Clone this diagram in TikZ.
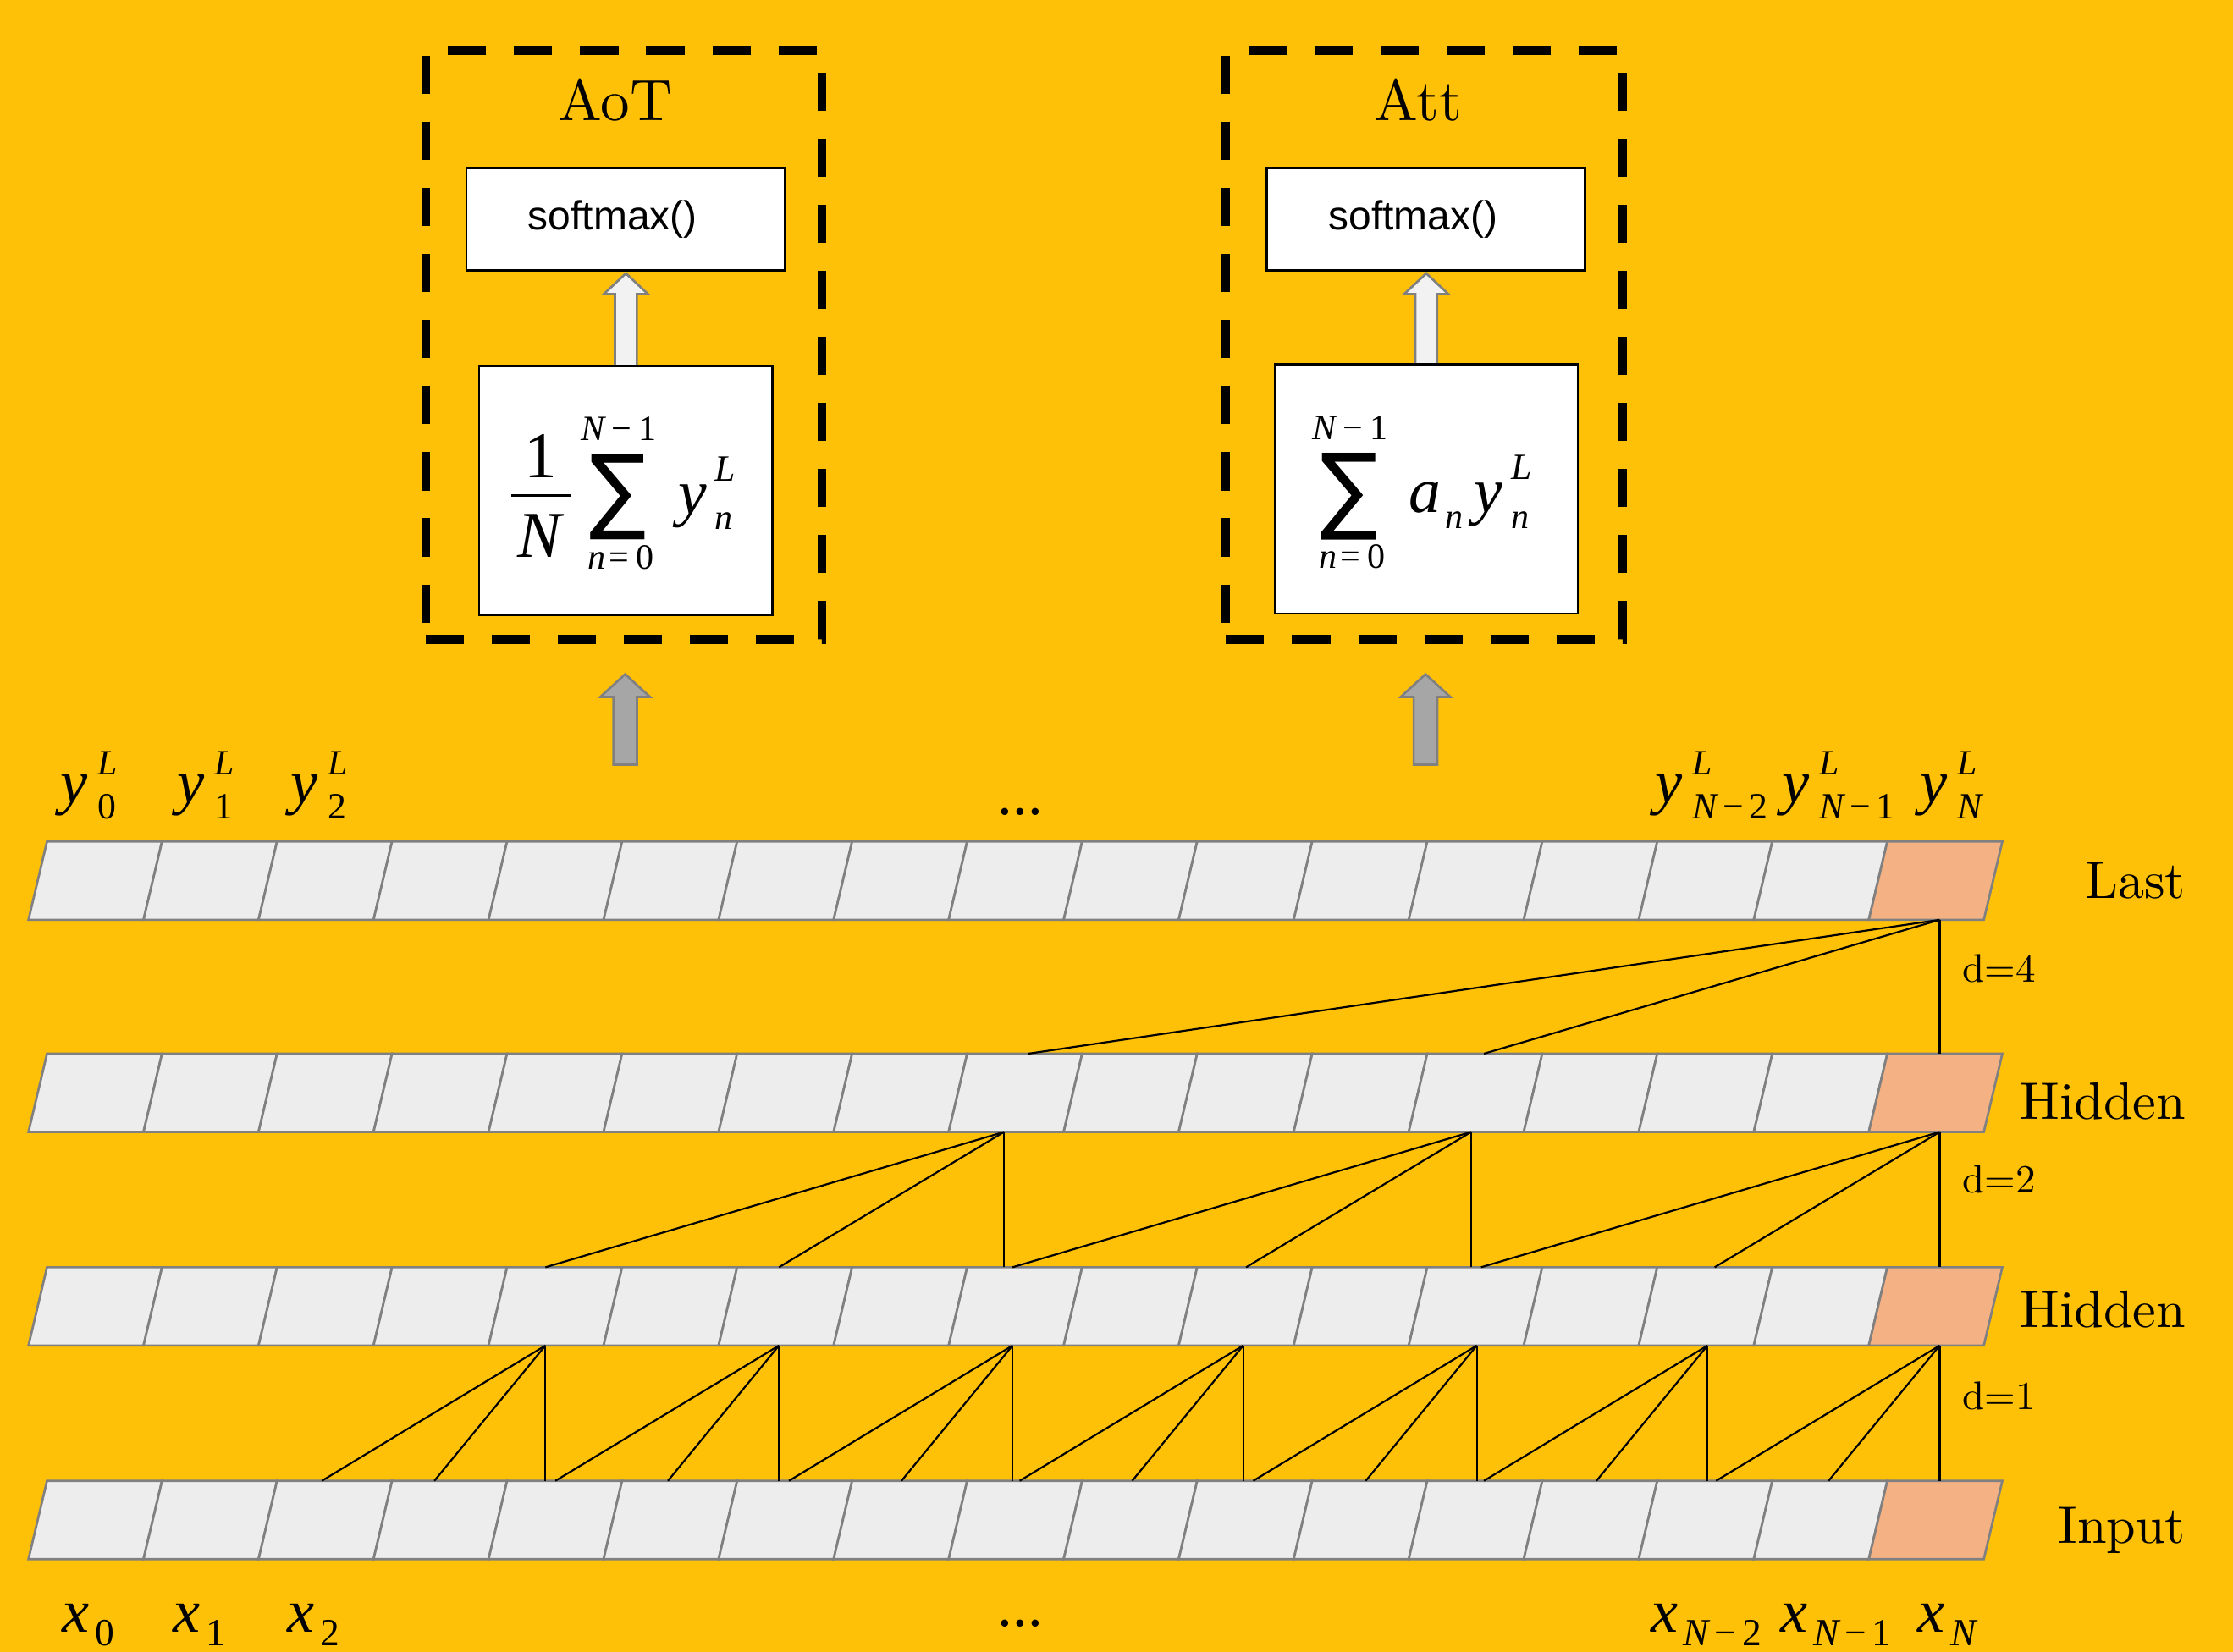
\documentclass[tikz,border=0pt]{standalone}
\usepackage{graphicx}
\usepackage{fontspec}
\newfontfamily\tmfont{Liberation Serif}
\newfontfamily\arfont{Liberation Sans}
\newfontfamily\djvfont{DejaVu Sans}
\newfontfamily\lmten{lmroman10-regular}[Extension=.otf]
\usetikzlibrary{calc}

\definecolor{bgc}{RGB}{255,193,8}
\definecolor{cellfill}{RGB}{237,237,237}
\definecolor{cellline}{RGB}{128,128,128}
\definecolor{orangefill}{RGB}{244,177,131}
\definecolor{warrowfill}{RGB}{242,242,242}
\definecolor{garrowfill}{RGB}{166,166,166}
\definecolor{arrowline}{RGB}{128,128,128}

\newcommand\fsz[1]{\fontsize{#1}{#1}\selectfont}
% base, kern, sub, sup
\newcommand\sbsp[4]{{\itshape #1}\kern#2\makebox[0pt][l]{\raisebox{\suprise}{\fsz{\supsz}\itshape #4}}\raisebox{-\subdrop}{\fsz{\subsz}#3}}
\newcommand\sumglyph[2]{\resizebox*{#1}{#2}{\djvfont ∑}}

\begin{document}
\begin{tikzpicture}[x=1pt,y=-1pt,
  cellbox/.style={fill=cellfill,draw=cellline,line width=1.6pt},
  orangebox/.style={fill=orangefill,draw=cellline,line width=1.6pt},
  conn/.style={draw=black,line width=1.3pt},
  dbox/.style={draw=black,line width=6pt,dash pattern=on 26.8pt off 19.6pt,inner sep=0pt},
  smx/.style={draw=black,line width=1.5pt,fill=white,inner sep=0pt,font=\arfont\fsz{28.5}},
  fbox/.style={draw=black,line width=1.5pt,fill=white,inner sep=0pt},
  ftxt/.style={inner sep=0pt,anchor=base,font=\tmfont\fsz{46}},
  flim/.style={inner sep=0pt,anchor=base,font=\tmfont\fsz{25}},
  fsym/.style={inner sep=0pt,anchor=base west,font=\tmfont\fsz{45}\def\suprise{23pt}\def\subdrop{11pt}\def\subsz{25}\def\supsz{26}},
  fbar/.style={draw=black,line width=2pt},
  ttl/.style={inner sep=0pt,anchor=base,font=\lmten\fsz{41}},
  rowlab/.style={inner sep=0pt,anchor=base east,font=\lmten\fsz{37}},
  dlab/.style={inner sep=0pt,anchor=base west,font=\lmten\fsz{28}},
  ylab/.style={inner sep=0pt,anchor=base,font=\tmfont\fsz{43}\def\suprise{20pt}\def\subdrop{11pt}\def\subsz{26}\def\supsz{25}},
  xlab/.style={inner sep=0pt,anchor=base,font=\tmfont\fsz{43}\def\suprise{19pt}\def\subdrop{10pt}\def\subsz{27}\def\supsz{22}},
  ellip/.style={inner sep=0pt,anchor=base,font=\tmfont\fsz{42}},
  warrow/.style={fill=warrowfill,draw=arrowline,line width=1.6pt},
  garrow/.style={fill=garrowfill,draw=arrowline,line width=1.6pt}
]
\fill[bgc] (0,0) rectangle (1568,1160);
\useasboundingbox (0,0) rectangle (1568,1160);

% ---- rows of cells
\def\cw{80.765}
\foreach \t in {591,740,890,1040}{
  \foreach \i in {0,...,15}{
    \draw[cellbox] ({20+\i*\cw},{\t+55}) -- ({33+\i*\cw},\t) -- ({33+(\i+1)*\cw},\t) -- ({20+(\i+1)*\cw},{\t+55}) -- cycle;
  }
  \draw[orangebox] ({20+16*\cw},{\t+55}) -- ({33+16*\cw},\t) -- ({33+17*\cw},\t) -- ({20+17*\cw},{\t+55}) -- cycle;
}

% ---- connectors d=4
\coordinate (a4) at (1362,646);
\foreach \ex [count=\kk] in {722,1042,1362}{
  \coordinate (b4-\kk) at (\ex,740);
  \draw[conn] (a4) -- (b4-\kk);
}
% ---- connectors d=2
\foreach \ax [count=\jj] in {705,1033,1362}{
  \coordinate (a2-\jj) at (\ax,795);
  \foreach \ox [count=\kk] in {322,158,0}{
    \coordinate (b2-\jj-\kk) at ({\ax-\ox},890);
    \draw[conn] (a2-\jj) -- (b2-\jj-\kk);
  }
}
% ---- connectors d=1
\foreach \ax [count=\jj] in {383,547,711,873,1037,1199,1362}{
  \coordinate (a1-\jj) at (\ax,945);
  \foreach \ox [count=\kk] in {157,78,0}{
    \coordinate (b1-\jj-\kk) at ({\ax-\ox},1040);
    \draw[conn] (a1-\jj) -- (b1-\jj-\kk);
  }
}

% ---- dashed boxes
\node[dbox,minimum width=278.4pt,minimum height=413.7pt] (aot) at (438.1,242.2) {};
\node[dbox,minimum width=278.4pt,minimum height=413.7pt] (att) at (1000.1,242.2) {};
\node[ttl] (taot) at (432,84.5) {AoT};
\node[ttl] (tatt) at (996,84.5) {Att};

% ---- softmax boxes
\node[smx,minimum width=223.5pt,minimum height=72pt] (sa) at (439.2,154) {\hspace*{-18pt}softmax()};
\node[smx,minimum width=223.5pt,minimum height=72pt] (sb) at (1001.2,154) {\hspace*{-18pt}softmax()};

% ---- white arrows
\coordinate (wtA) at (439.5,192);
\coordinate (wbA) at (439.5,257);
\draw[warrow] ($(wbA)+(-7.7,0)$) -- ($(wtA)+(-7.7,14.5)$) -- ($(wtA)+(-15.5,14.5)$) -- (wtA) -- ($(wtA)+(15.5,14.5)$) -- ($(wtA)+(7.7,14.5)$) -- ($(wbA)+(7.7,0)$) -- cycle;
\coordinate (wtB) at (1001.5,192);
\coordinate (wbB) at (1001.5,257);
\draw[warrow] ($(wbB)+(-7.7,0)$) -- ($(wtB)+(-7.7,14.5)$) -- ($(wtB)+(-15.5,14.5)$) -- (wtB) -- ($(wtB)+(15.5,14.5)$) -- ($(wtB)+(7.7,14.5)$) -- ($(wbB)+(7.7,0)$) -- cycle;

% ---- formula boxes
\node[fbox,minimum width=206pt,minimum height=175pt] (fa) at (439.5,344.5) {};
\node[fbox,minimum width=213pt,minimum height=175pt] (fb) at (1001.5,343.5) {};

% AoT formula: (1/N) sum y_n^L
\node[ftxt] (fa-num) at (380,335.7) {1};
\coordinate (fa-bl) at (359,348);
\coordinate (fa-br) at (401,348);
\draw[fbar] (fa-bl) -- (fa-br);
\node[ftxt] (fa-den) at (379,391.5) {\itshape N};
\node[inner sep=0pt] (fa-sum) at (434,349) {\sumglyph{40pt}{60pt}};
\node[flim] (fa-top) at (434.5,309.5) {{\itshape N}\kern5pt−\kern5pt1};
\node[flim] (fa-bot) at (436,400) {{\itshape n}\kern2pt=\kern5pt0};
\node[fsym] (fa-y) at (476,361) {\sbsp{y}{6pt}{\itshape n}{L}};

% Att formula: sum a_n y_n^L
\node[inner sep=0pt] (fb-sum) at (947.5,348.5) {\sumglyph{41pt}{61pt}};
\node[flim] (fb-top) at (948,309) {{\itshape N}\kern5pt−\kern5pt1};
\node[flim] (fb-bot) at (949.5,399.3) {{\itshape n}\kern2pt=\kern5pt0};
\node[fsym] (fb-ay) at (989,360) {\sbsp{a}{3pt}{\itshape n}{}\hspace{8pt}\sbsp{y}{6pt}{\itshape n}{L}};

% ---- gray arrows
\coordinate (gtA) at (439,473.5);
\coordinate (gbA) at (439,537);
\draw[garrow] ($(gbA)+(-8.3,0)$) -- ($(gtA)+(-8.3,16)$) -- ($(gtA)+(-17.5,16)$) -- (gtA) -- ($(gtA)+(17.5,16)$) -- ($(gtA)+(8.3,16)$) -- ($(gbA)+(8.3,0)$) -- cycle;
\coordinate (gtB) at (1001,473.5);
\coordinate (gbB) at (1001,537);
\draw[garrow] ($(gbB)+(-8.3,0)$) -- ($(gtB)+(-8.3,16)$) -- ($(gtB)+(-17.5,16)$) -- (gtB) -- ($(gtB)+(17.5,16)$) -- ($(gtB)+(8.3,16)$) -- ($(gbB)+(8.3,0)$) -- cycle;

% ---- top labels
\node[ylab] (y0) at (62,564) {\sbsp{y}{7pt}{0}{L}};
\node[ylab] (y1) at (144,564) {\sbsp{y}{7pt}{1}{L}};
\node[ylab] (y2) at (224,564) {\sbsp{y}{7pt}{2}{L}};
\node[ellip] (ydots) at (716.5,572) {...};
\node[ylab] (yn2) at (1202,564) {\sbsp{y}{7pt}{{\itshape N}\kern4pt−\kern4pt2}{L}};
\node[ylab] (yn1) at (1291,564) {\sbsp{y}{7pt}{{\itshape N}\kern4pt−\kern4pt1}{L}};
\node[ylab] (yn) at (1370,564) {\sbsp{y}{7pt}{\itshape N}{L}};

% ---- bottom labels
\node[xlab] (x0) at (62,1146) {\sbsp{x}{4pt}{0}{}};
\node[xlab] (x1) at (140,1146) {\sbsp{x}{4pt}{1}{}};
\node[xlab] (x2) at (220,1146) {\sbsp{x}{4pt}{2}{}};
\node[ellip] (xdots) at (716.5,1142) {...};
\node[xlab] (xn2) at (1198,1146) {\sbsp{x}{4pt}{{\itshape N}\kern4pt−\kern4pt2}{}};
\node[xlab] (xn1) at (1289,1146) {\sbsp{x}{4pt}{{\itshape N}\kern4pt−\kern4pt1}{}};
\node[xlab] (xn) at (1367,1146) {\sbsp{x}{4pt}{\itshape N}{}};

% ---- row labels
\node[rowlab] (llast) at (1535,631) {Last};
\node[rowlab] (lh1) at (1535,786) {Hidden};
\node[rowlab] (lh2) at (1535,932) {Hidden};
\node[rowlab] (linp) at (1535,1084) {Input};
\node[dlab] (d4) at (1378,689.5) {d=4};
\node[dlab] (d2) at (1378,838) {d=2};
\node[dlab] (d1) at (1378,990) {d=1};
\end{tikzpicture}
\end{document}
